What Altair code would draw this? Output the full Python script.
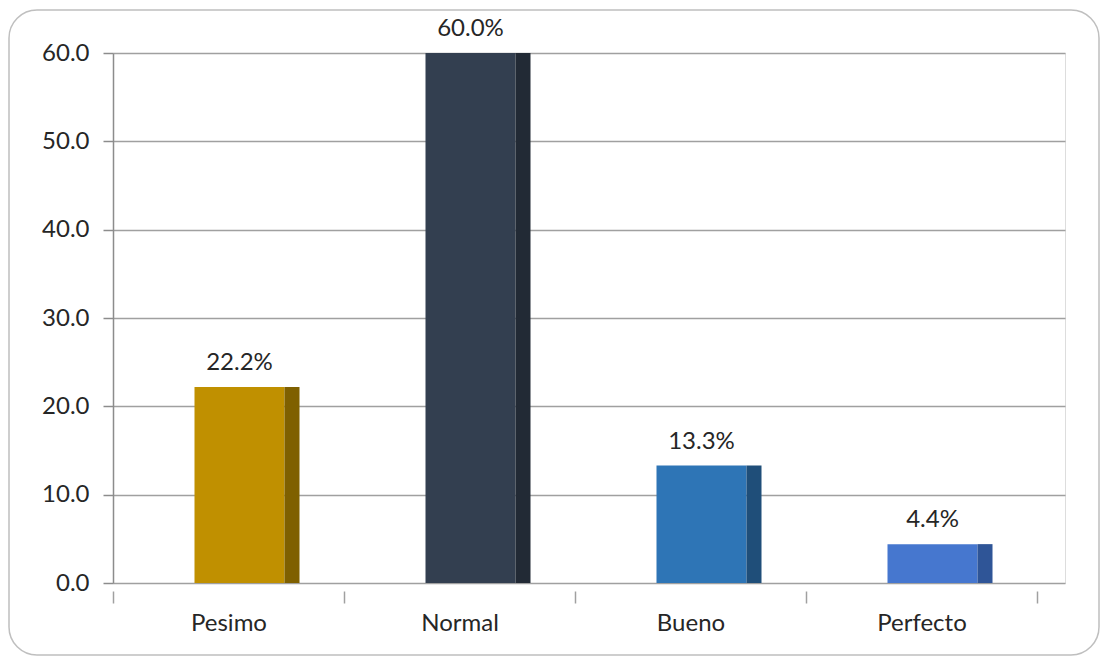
import altair as alt
import pandas as pd

categories = ["Pesimo", "Normal", "Bueno", "Perfecto"]
values = [22.2, 60.0, 13.3, 4.4]
front_colors = ["#C09000", "#333F50", "#2E75B6", "#4677CF"]
side_colors = ["#7F6000", "#222A35", "#1F4E79", "#2F5597"]

df = pd.DataFrame({"cat": categories, "v": values, "front": front_colors, "side": side_colors})

FONT = "Lato"
TXT = "#262626"
FS = 24

x_scale = alt.Scale(paddingInner=0, paddingOuter=0.0606, align=0)
x_enc = alt.X("cat:N", sort=categories, title=None, scale=x_scale,
              axis=alt.Axis(labelAngle=0, labelFont=FONT, labelFontSize=FS, labelColor=TXT,
                            domain=False, ticks=True, tickBand="extent", tickSize=12,
                            tickColor="#a0a0a0", tickWidth=1.5, labelPadding=8, offset=8,
                            grid=False))
y_scale = alt.Scale(domain=[0, 60], nice=False)

front = alt.Chart(df).mark_bar(size=90, xOffset=11).encode(
    x=x_enc,
    y=alt.Y("v:Q", scale=y_scale, title=None,
            axis=alt.Axis(values=[0, 10, 20, 30, 40, 50, 60], format=".1f",
                          labelFont=FONT, labelFontSize=FS, labelColor=TXT,
                          domainColor="#8c8c8c", domainWidth=1.5,
                          tickColor="#8c8c8c", tickSize=10, tickWidth=1.5, labelPadding=14,
                          grid=True, gridColor="#a0a0a0", gridWidth=1.5)),
    color=alt.Color("front:N", scale=None),
)

side = alt.Chart(df).mark_bar(size=15, xOffset=63.5).encode(
    x=alt.X("cat:N", sort=categories, scale=x_scale),
    y=alt.Y("v:Q", scale=y_scale),
    color=alt.Color("side:N", scale=None),
)

labels = alt.Chart(df).transform_calculate(
    lab="format(datum.v, '.1f') + '%'"
).mark_text(dy=-24, xOffset=11, font=FONT, fontSize=FS, color=TXT).encode(
    x=alt.X("cat:N", sort=categories, scale=x_scale),
    y=alt.Y("v:Q", scale=y_scale),
    text="lab:N",
)

border = alt.Chart(pd.DataFrame({"a": [0]})).mark_rect(
    filled=False, stroke="#bfbfbf", strokeWidth=1.5, cornerRadius=28
).encode(
    x=alt.value(-104), x2=alt.value(986), y=alt.value(-43), y2=alt.value(602)
)

chart = alt.layer(border, front, side, labels).properties(
    width=952, height=530,
    autosize="none",
    padding={"left": 113, "top": 53, "right": 41, "bottom": 78},
).configure_view(stroke=None).configure(background="white")

chart.save("out.html", embed_options={"renderer": "svg", "actions": False})
